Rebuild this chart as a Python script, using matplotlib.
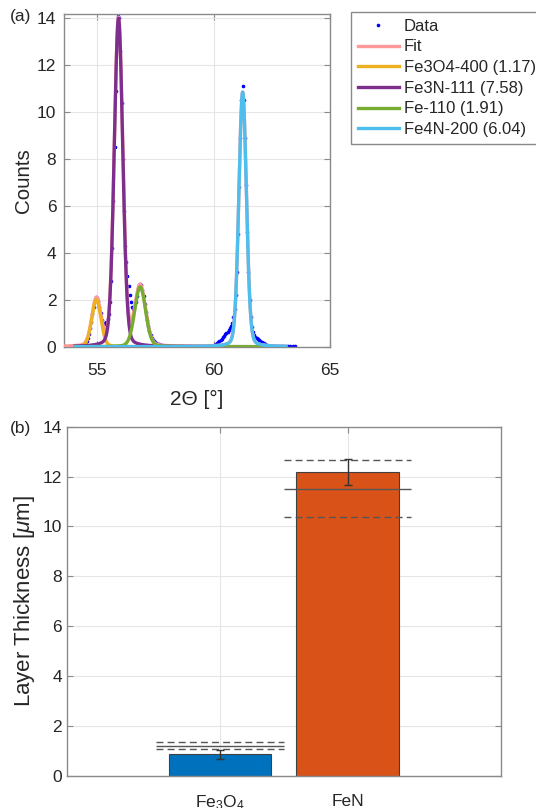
import numpy as np
import matplotlib
matplotlib.use("Agg")
import matplotlib.pyplot as plt

plt.rcParams["font.family"] = ["Liberation Sans", "DejaVu Sans"]
plt.rcParams["mathtext.fontset"] = "custom"
plt.rcParams["mathtext.rm"] = "Liberation Sans"
plt.rcParams["mathtext.it"] = "Liberation Sans:italic"

# ---- (a) XRD peak fit ----
# measured points, read off the picture (2-theta grid in 0.05 / 0.1 steps)
x_seg1 = np.round(np.arange(54.30, 58.001, 0.05), 2)
y_seg1 = [0.05, 0.07, 0.09, 0.12, 0.17, 0.24, 0.37, 0.54, 0.78, 1.06,
          1.38, 1.70, 1.95, 2.10, 2.08, 1.93, 1.70, 1.42, 1.15, 1.00,
          0.95, 0.98, 1.05, 1.20, 1.40, 1.90, 2.80, 4.20, 6.20, 8.50,
          10.90, 12.90, 14.10, 14.00, 12.60, 10.40, 8.00, 5.80, 4.30, 3.60,
          3.00, 2.60, 2.20, 1.90, 1.70, 1.60, 1.70, 1.90, 2.18, 2.45,
          2.62, 2.68, 2.62, 2.43, 2.15, 1.82, 1.47, 1.15, 0.88, 0.66,
          0.50, 0.38, 0.30, 0.24, 0.20, 0.16, 0.13, 0.11, 0.09, 0.07,
          0.06, 0.05, 0.04, 0.03, 0.03]
x_seg2 = np.round(np.arange(58.10, 59.951, 0.10), 2)
y_seg2 = [0.02] * len(x_seg2)
x_seg3 = np.round(np.arange(60.00, 62.501, 0.05), 2)
y_seg3 = [0.06, 0.08, 0.11, 0.14, 0.18, 0.23, 0.28, 0.34, 0.40, 0.46,
          0.52, 0.58, 0.64, 0.70, 0.78, 0.88, 1.02, 1.25, 1.60, 2.20,
          3.20, 4.80, 6.80, 8.90, 10.50, 11.10, 10.50, 8.90, 6.90, 4.90,
          3.20, 2.00, 1.25, 0.85, 0.62, 0.50, 0.43, 0.38, 0.34, 0.30,
          0.26, 0.22, 0.18, 0.14, 0.11, 0.08, 0.06, 0.05, 0.04, 0.04,
          0.03]
x_seg4 = np.round(np.arange(62.60, 63.501, 0.10), 2)
y_seg4 = [0.02] * len(x_seg4)

# fitted pseudo-Voigt components: centre, height, FWHM, lorentz fraction
peak_names = ["Fe3O4-400 (1.17)", "Fe3N-111 (7.58)", "Fe-110 (1.91)", "Fe4N-200 (6.04)"]
peak_center = [54.97, 55.92, 56.85, 61.25]
peak_height = [2.0, 14.0, 2.55, 10.85]
peak_fwhm = [0.46, 0.43, 0.55, 0.38]
peak_eta = [0.15, 0.15, 0.15, 0.15]
peak_colors = ["#EDB120", "#7E2F8E", "#77AC30", "#4DBEEE"]

# ---- (b) layer thickness ----
layers = ["Fe$_3$O$_4$", "FeN"]
thickness = [0.86, 12.18]
thickness_err = [0.18, 0.52]
ref_mean = [1.20, 11.52]
ref_low = [1.08, 10.38]
ref_high = [1.34, 12.67]
bar_colors = ["#0072BD", "#D95319"]

AX_COLOR = "#8a8a8a"
TXT = "#262626"


def pvoigt(x, c, h, w, eta):
    u = 4 * (x - c) ** 2 / w ** 2
    return h * (eta / (1 + u) + (1 - eta) * np.exp(-np.log(2) * u))


def style_axes(ax):
    for s in ax.spines.values():
        s.set_color(AX_COLOR)
        s.set_linewidth(1.0)
    ax.tick_params(direction="in", top=True, right=True, length=4,
                   color=AX_COLOR, labelsize=12.5, labelcolor=TXT)
    ax.grid(True, color="#e6e6e6", linewidth=0.8)
    ax.set_axisbelow(True)


def main():
    fig = plt.figure(figsize=(5.36, 8.08), dpi=100)

    ax1 = fig.add_axes([64 / 536, 1 - 346.7 / 808, 266 / 536, 332.7 / 808])
    data_x = np.concatenate([x_seg1, x_seg2, x_seg3, x_seg4])
    data_y = np.concatenate([y_seg1, y_seg2, y_seg3, y_seg4])
    ax1.plot(data_x, data_y, ".", color="blue", markersize=3.2, label="Data", zorder=2)

    params = list(zip(peak_center, peak_height, peak_fwhm, peak_eta))
    xf = np.linspace(53.6, 63.1, 1000)
    xc = np.linspace(54.05, 63.1, 1000)
    fit = sum(pvoigt(xf, *p) for p in params)
    ax1.plot(xf, fit, color="#FF9999", linewidth=2.4, label="Fit", zorder=3)
    for p, name, col in zip(params, peak_names, peak_colors):
        ax1.plot(xc, pvoigt(xc, *p), color=col, linewidth=2.4, label=name, zorder=4)

    ax1.set_xlim(53.58, 65)
    ax1.set_ylim(0, 14.18)
    ax1.set_xticks([55, 60, 65])
    ax1.set_yticks(range(0, 15, 2))
    style_axes(ax1)
    ax1.tick_params(axis="x", pad=12)
    ax1.tick_params(axis="y", pad=5.5)
    ax1.set_ylabel("Counts", fontsize=14.8, color=TXT, labelpad=3)
    ax1.set_xlabel("2\u0398 [\u00b0]", fontsize=15, color=TXT, labelpad=8)
    fig.text(10 / 536, 1 - 16 / 808, "(a)", fontsize=12.5, va="center", color=TXT)

    leg = ax1.legend(loc="upper left", bbox_to_anchor=(351 / 536, 1 - 12 / 808),
                     bbox_transform=fig.transFigure, borderaxespad=0,
                     fancybox=False, edgecolor=AX_COLOR, fontsize=12,
                     handlelength=2.45, handletextpad=0.3, labelspacing=0.34,
                     borderpad=0.4, markerscale=1.0, framealpha=1)
    leg.get_frame().set_linewidth(1.0)
    for t in leg.get_texts():
        t.set_color(TXT)

    # bottom panel
    ax2 = fig.add_axes([66.7 / 536, 1 - 775.7 / 808, 434 / 536, 349 / 808])
    pos = np.arange(1, len(layers) + 1)
    ax2.bar(pos, thickness, width=0.8, color=bar_colors, edgecolor="#404040",
            linewidth=0.8, zorder=2)
    ax2.errorbar(pos, thickness, yerr=thickness_err, fmt="none", ecolor="#333333",
                 elinewidth=1.0, capsize=3, capthick=1.0, zorder=3)
    for p, m, lo, hi in zip(pos, ref_mean, ref_low, ref_high):
        ax2.hlines(m, p - 0.5, p + 0.5, colors="#555555", linewidth=1.0, zorder=4)
        ax2.hlines([lo, hi], p - 0.5, p + 0.5, colors="#555555", linewidth=1.0,
                   linestyles=(0, (5, 3)), zorder=4)
    ax2.set_xlim(-0.2, 3.2)
    ax2.set_ylim(0, 14)
    ax2.set_xticks(pos)
    ax2.set_xticklabels(layers)
    ax2.set_yticks(range(0, 15, 2))
    style_axes(ax2)
    ax2.tick_params(axis="x", pad=13)
    ax2.set_ylabel("Layer Thickness [$\\mu$m]", fontsize=16, color=TXT, labelpad=4)
    fig.text(10 / 536, 1 - 429 / 808, "(b)", fontsize=12.5, va="center", color=TXT)

    fig.savefig("out.png", dpi=100)
    plt.close(fig)


if __name__ == "__main__":
    main()
